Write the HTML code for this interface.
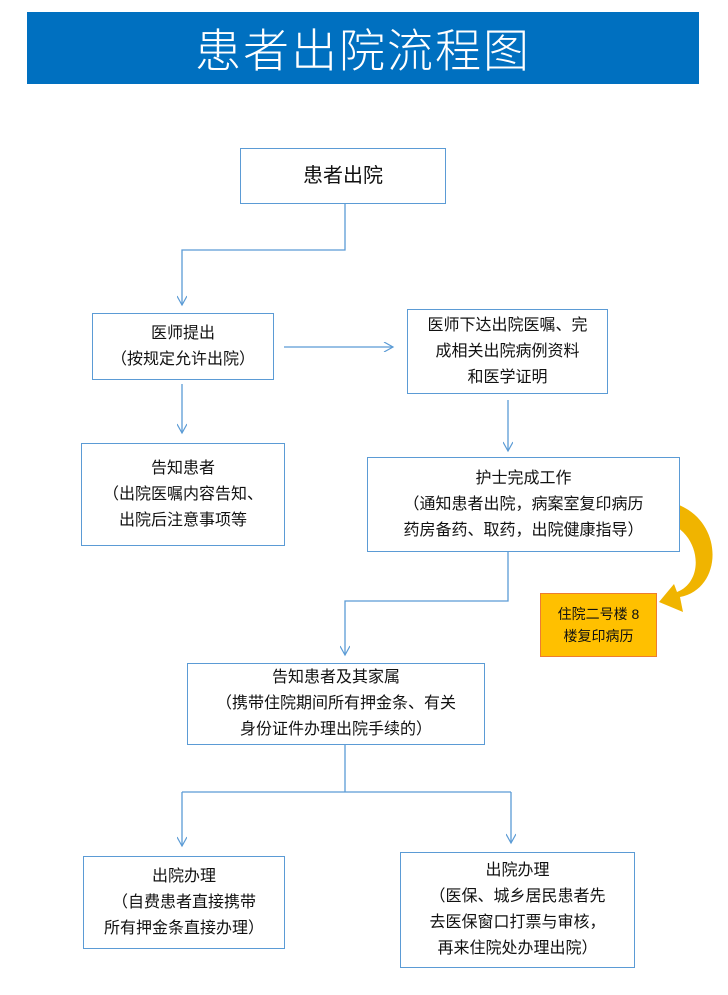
<!DOCTYPE html>
<html><head><meta charset="utf-8"><style>
body{margin:0;width:728px;height:995px;background:#fff;position:relative;overflow:hidden;font-family:"Liberation Sans","Noto Sans CJK SC","WenQuanYi Zen Hei",sans-serif;}
.b{position:absolute;border:1.5px solid #5b9bd5;box-sizing:border-box;display:flex;flex-direction:column;justify-content:center;align-items:center;text-align:center;font-size:16px;line-height:26px;color:#111;background:#fff}
</style></head><body>
<div style="position:absolute;left:27px;top:12px;width:672px;height:72px;background:#0070c0;color:#fff;font-size:46px;display:flex;align-items:center;justify-content:center;letter-spacing:2px;font-family:'Noto Sans CJK SC',sans-serif;font-weight:300">患者出院流程图</div>
<svg style="position:absolute;left:0;top:0" width="728" height="995">
<defs><marker id="a" markerWidth="12" markerHeight="10" refX="10" refY="5" orient="auto" markerUnits="userSpaceOnUse"><path d="M1,0 L10,5 L1,10" fill="none" stroke="#5b9bd5" stroke-width="1.2"/></marker></defs>
<g fill="none" stroke="#5b9bd5" stroke-width="1.3">
<path d="M345,204 V250 H182 V305" marker-end="url(#a)"/>
<path d="M284,347 H393" marker-end="url(#a)"/>
<path d="M182,384 V433" marker-end="url(#a)"/>
<path d="M508,400 V451" marker-end="url(#a)"/>
<path d="M508,552 V601 H345 V655" marker-end="url(#a)"/>
<path d="M345,745 V792"/>
<path d="M182,792 H511"/>
<path d="M182,792 V846" marker-end="url(#a)"/>
<path d="M511,792 V843" marker-end="url(#a)"/>
</g>
<path d="M657,500 C725,505 728,588 680,597 L683,612 L659,602 L674,584 L677,592 C708,580 700,525 657,520 Z" fill="#f0b400"/>
</svg>
<div class="b" style="left:240px;top:148px;width:206px;height:56px;font-size:20px">患者出院</div>
<div class="b" style="left:92px;top:313px;width:182px;height:67px">医师提出<br>（按规定允许出院）</div>
<div class="b" style="left:407px;top:309px;width:201px;height:85px">医师下达出院医嘱、完<br>成相关出院病例资料<br>和医学证明</div>
<div class="b" style="left:81px;top:443px;width:204px;height:103px">告知患者<br>（出院医嘱内容告知、<br>出院后注意事项等</div>
<div class="b" style="left:367px;top:457px;width:313px;height:95px">护士完成工作<br>（通知患者出院，病案室复印病历<br>药房备药、取药，出院健康指导）</div>
<div class="b" style="left:540px;top:593px;width:117px;height:64px;background:#ffc000;border-color:#ed7d31;font-size:14px;line-height:22px">住院二号楼 8<br>楼复印病历</div>
<div class="b" style="left:187px;top:663px;width:298px;height:82px">告知患者及其家属<br>（携带住院期间所有押金条、有关<br>身份证件办理出院手续的）</div>
<div class="b" style="left:83px;top:856px;width:202px;height:93px">出院办理<br>（自费患者直接携带<br>所有押金条直接办理）</div>
<div class="b" style="left:400px;top:852px;width:235px;height:116px">出院办理<br>（医保、城乡居民患者先<br>去医保窗口打票与审核，<br>再来住院处办理出院）</div>
</body></html>
